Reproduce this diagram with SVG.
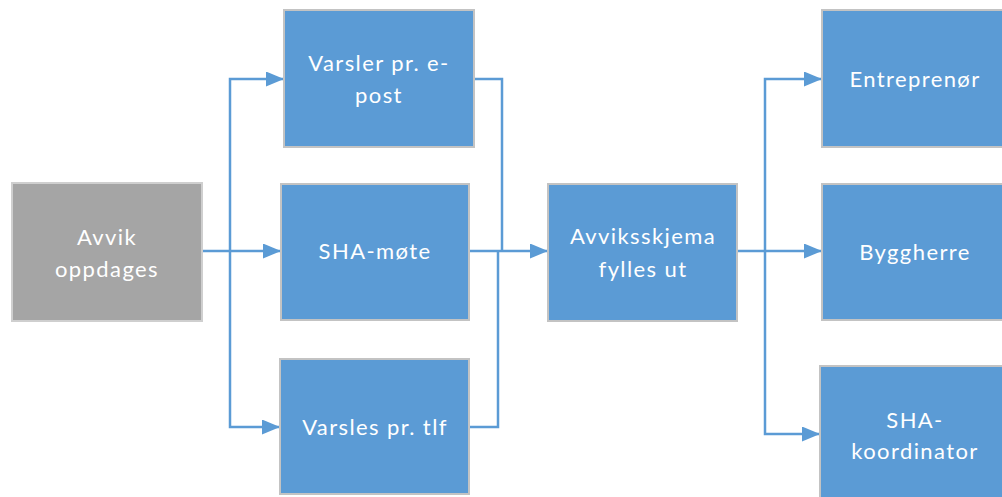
<svg xmlns="http://www.w3.org/2000/svg" width="1002" height="497" viewBox="0 0 1002 497">
<style>
.box{fill:#5b9bd5;stroke:#c3c3c3;stroke-width:2}
.grey{fill:#a5a5a5;stroke:#cfcfcf;stroke-width:2}
.t{font-family:Lato,"Open Sans",sans-serif;font-size:22px;font-weight:400;fill:#ffffff;text-anchor:middle;letter-spacing:1.4px}
.c{fill:none;stroke:#5b9bd5;stroke-width:2.5}
</style>
<defs>
<marker id="ah" markerWidth="18" markerHeight="15" refX="18" refY="7.5" orient="auto" markerUnits="userSpaceOnUse">
<path d="M0,0 L18,7.5 L0,15 Z" fill="#5b9bd5"/>
</marker>
</defs>
<rect width="1002" height="497" fill="#ffffff"/>
<g id="connectors">
<path class="c" d="M202,251 L281,251" marker-end="url(#ah)"/>
<path class="c" d="M230,251 L230,79 L284,79" marker-end="url(#ah)"/>
<path class="c" d="M230,251 L230,427 L280,427" marker-end="url(#ah)"/>
<path class="c" d="M474,79 L502,79 L502,251"/>
<path class="c" d="M469,427 L498,427 L498,251"/>
<path class="c" d="M469,251 L548,251" marker-end="url(#ah)"/>
<path class="c" d="M737,251 L822,251" marker-end="url(#ah)"/>
<path class="c" d="M765,251 L765,79 L822,79" marker-end="url(#ah)"/>
<path class="c" d="M765,251 L765,434 L820,434" marker-end="url(#ah)"/>
</g>
<g id="avvik">
<rect class="grey" x="12" y="183" width="190" height="138"/>
<text class="t" x="107" y="245">Avvik</text>
<text class="t" x="107" y="277">oppdages</text>
</g>
<g id="epost">
<rect class="box" x="284" y="10" width="190" height="137"/>
<text class="t" x="379" y="71">Varsler pr. e-</text>
<text class="t" x="379" y="103">post</text>
</g>
<g id="shamote">
<rect class="box" x="281" y="184" width="188" height="136"/>
<text class="t" x="375" y="259">SHA-møte</text>
</g>
<g id="tlf">
<rect class="box" x="280" y="359" width="189" height="135"/>
<text class="t" x="375" y="435">Varsles pr. tlf</text>
</g>
<g id="skjema">
<rect class="box" x="548" y="184" width="189" height="137"/>
<text class="t" x="643" y="244">Avviksskjema</text>
<text class="t" x="643" y="277">fylles ut</text>
</g>
<g id="entreprenor">
<rect class="box" x="822" y="10" width="190" height="137"/>
<text class="t" x="915" y="87">Entreprenør</text>
</g>
<g id="byggherre">
<rect class="box" x="822" y="184" width="190" height="136"/>
<text class="t" x="915" y="260">Byggherre</text>
</g>
<g id="shakoord">
<rect class="box" x="820" y="366" width="192" height="140"/>
<text class="t" x="915" y="428">SHA-</text>
<text class="t" x="915" y="459">koordinator</text>
</g>
</svg>
